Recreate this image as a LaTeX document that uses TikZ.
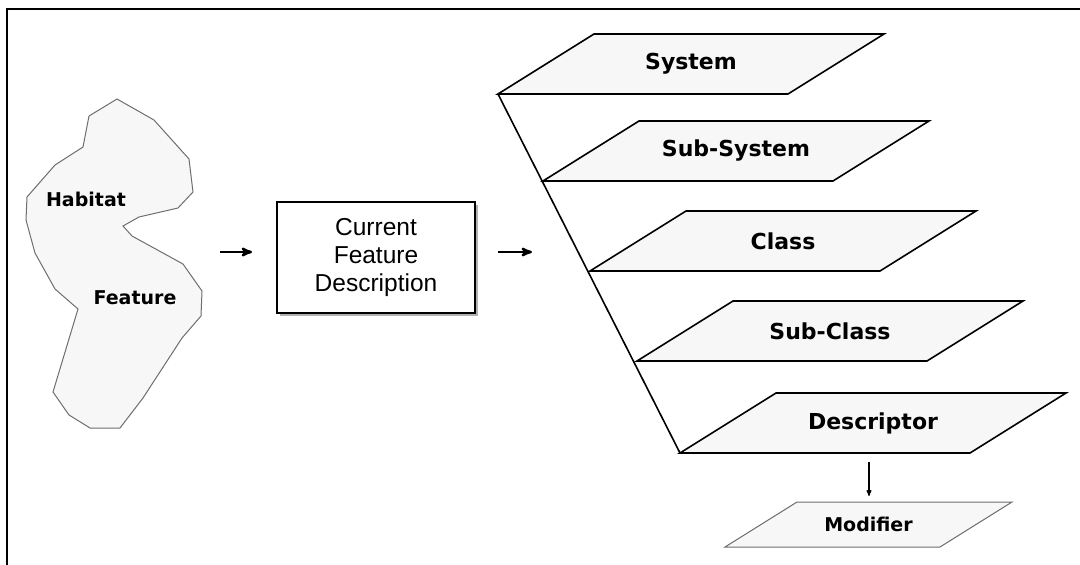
\documentclass[tikz,border=0pt]{standalone}
\usepackage{fontspec}
\newfontfamily\labelfont{DejaVu Sans}
\newfontfamily\boxfont{Liberation Sans}
\usetikzlibrary{arrows, shadows}
\definecolor{paper}{HTML}{F7F7F7}
\definecolor{edgegray}{HTML}{6E6E6E}

\begin{document}
\begin{tikzpicture}[x=1pt,y=-1pt,>=stealth',
  layer/.style={fill=paper,draw=black,line width=1.6pt,line join=miter},
  layer text/.style={font=\labelfont\bfseries\fontsize{22}{24}\selectfont},
  small layer/.style={fill=paper,draw=edgegray,line width=1pt},
  blob text/.style={font=\labelfont\bfseries\fontsize{19}{22}\selectfont},
  main box/.style={draw,line width=1.8pt,fill=white,minimum width=198pt,minimum height=111pt,
    align=center,font=\boxfont\fontsize{24.5}{28}\selectfont,
    drop shadow={shadow xshift=3pt,shadow yshift=-3pt,fill=gray!60,opacity=1}},
  flow/.style={->,line width=2.4pt}]
  \useasboundingbox (0,0) rectangle (1080,565);
  \draw[line width=1.3pt] (7,565) -- (7,9) -- (1080,9);

  % habitat outline
  \draw[fill=paper,draw=edgegray,line width=1pt] (117,99) -- (154,120) -- (189,159) -- (193,192)
    -- (178,208) -- (139,217) -- (123,226) -- (132,236) -- (183,264) -- (202,291)
    -- (201,316) -- (182,338) -- (143,398) -- (120,428) -- (90,428) -- (69,415)
    -- (53,392) -- (78,309) -- (55,289) -- (35,253) -- (26,220) -- (27,197)
    -- (55,165) -- (83,147) -- (89,116) -- cycle;
  \node[blob text] (habitat) at (86,199) {Habitat};
  \node[blob text] (feature) at (135,298) {Feature};

  \node[main box] (box) at (376,257.5) {Current\\Feature\\Description};

  \coordinate (in) at (220,252);
  \coordinate (out-a) at (498,252);
  \coordinate (out-b) at (532,252);
  \draw[flow] (in) -- ([xshift=-24pt]in -| box.west);
  \draw[flow] (out-a) -- (out-b);

  % the five layers
  \foreach \nm/\x/\y/\txt in {sys/498/94/System, subsys/543/181/Sub-System,
      cls/590/271/Class, subcls/637/361/Sub-Class, desc/680/453/Descriptor}{
    \coordinate (\nm-bl) at (\x,\y);
    \draw[layer] (\nm-bl) -- ++(290,0) -- ++(96,-60) -- ++(-290,0) -- cycle;
    \node[layer text] (\nm) at ([xshift=193pt,yshift=30pt]\nm-bl) {\txt};
  }
  \draw[line width=1.6pt] (sys-bl) -- (desc-bl);

  \coordinate (mod-bl) at (725,547);
  \draw[small layer] (mod-bl) -- ++(215,0) -- ++(72,-45) -- ++(-215,0) -- cycle;
  \node[blob text] (mod) at ([xshift=143.5pt,yshift=22.5pt]mod-bl) {Modifier};

  \coordinate (d-out) at (869,462);
  \coordinate (m-in) at (869,496);
  \draw[->,line width=1.1pt] (d-out) -- (m-in);
\end{tikzpicture}
\end{document}
